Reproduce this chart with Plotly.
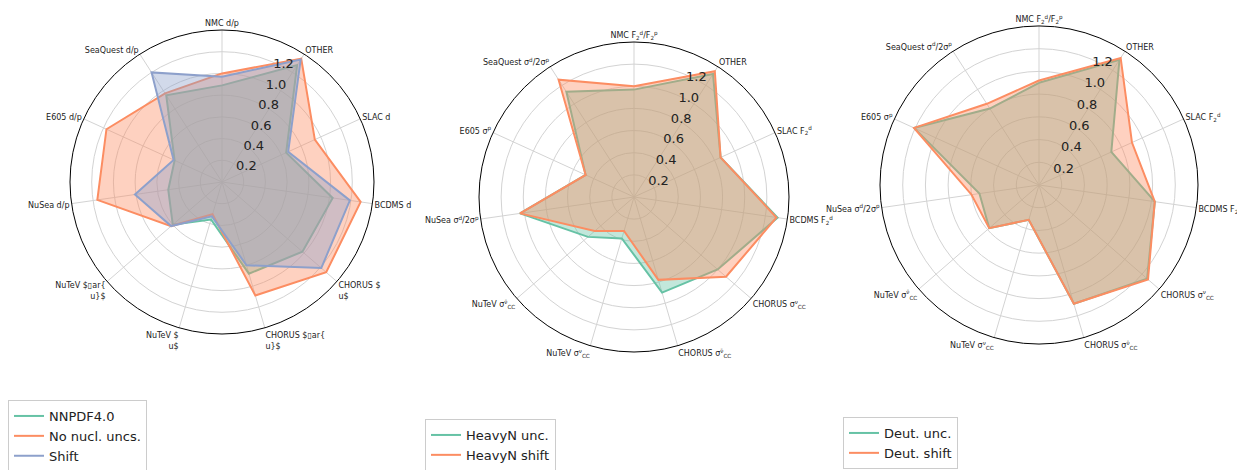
import plotly.graph_objects as go

# categories, clockwise from the top
cats1 = ["NMC d/p", "OTHER", "SLAC d", "BCDMS d", "CHORUS $<br>u$",
         "CHORUS $\u25afar{<br>u}$", "NuTeV $<br>u$", "NuTeV $\u25afar{<br>u}$",
         "NuSea d/p", "E605 d/p", "SeaQuest d/p"]
cats2 = ["NMC F<sub>2</sub><sup>d</sup>/F<sub>2</sub><sup>p</sup>", "OTHER",
         "SLAC F<sub>2</sub><sup>d</sup>", "BCDMS F<sub>2</sub><sup>d</sup>",
         "CHORUS σ<sup>ν</sup><sub>CC</sub>", "CHORUS σ<sup>ν̄</sup><sub>CC</sub>",
         "NuTeV σ<sup>ν</sup><sub>CC</sub>", "NuTeV σ<sup>ν̄</sup><sub>CC</sub>",
         "NuSea σ<sup>d</sup>/2σ<sup>p</sup>", "E605 σ<sup>p</sup>",
         "SeaQuest σ<sup>d</sup>/2σ<sup>p</sup>"]
cats3 = cats2

# panel 1
nnpdf = [0.89, 1.28, 0.65, 1.03, 0.98, 0.88, 0.36, 0.60, 0.50, 0.48, 0.95]
no_nucl = [1.00, 1.35, 0.94, 1.29, 1.27, 1.09, 0.31, 0.62, 1.16, 1.17, 0.97]
shift = [0.97, 1.34, 0.67, 1.19, 1.21, 0.80, 0.33, 0.62, 0.81, 0.49, 1.20]
# panel 2
heavy_unc = [0.97, 1.32, 0.86, 1.31, 1.00, 0.90, 0.39, 0.55, 1.04, 0.48, 1.13]
heavy_shift = [1.00, 1.35, 0.86, 1.30, 1.10, 0.78, 0.32, 0.47, 1.04, 0.48, 1.26]
# panel 3
deut_unc = [0.90, 1.31, 0.70, 1.03, 1.26, 1.09, 0.32, 0.58, 0.53, 1.21, 0.80]
deut_shift = [0.92, 1.33, 0.90, 1.03, 1.27, 1.09, 0.32, 0.58, 0.60, 1.21, 0.85]

green = "#66c2a5"
orange = "#fc8d62"
blue = "#8da0cb"
fills = {green: "rgba(102,194,165,0.4)", orange: "rgba(252,141,98,0.4)",
         blue: "rgba(141,160,203,0.4)"}

fig = go.Figure()


def add(vals, cats, name, col, polar, legend):
    fig.add_trace(go.Scatterpolar(
        r=vals + vals[:1], theta=cats + cats[:1], mode="lines", name=name,
        line=dict(color=col, width=2), fill="toself", fillcolor=fills[col],
        subplot=polar, showlegend=False))
    # line-only entry for the legend
    fig.add_trace(go.Scatterpolar(
        r=[None], theta=[cats[0]], mode="lines", name=name,
        line=dict(color=col, width=2), subplot=polar, legend=legend))


add(nnpdf, cats1, "NNPDF4.0", green, "polar", "legend")
add(no_nucl, cats1, "No nucl. uncs.", orange, "polar", "legend")
add(shift, cats1, "Shift", blue, "polar", "legend")
add(heavy_unc, cats2, "HeavyN unc.", green, "polar2", "legend2")
add(heavy_shift, cats2, "HeavyN shift", orange, "polar2", "legend2")
add(deut_unc, cats3, "Deut. unc.", green, "polar3", "legend3")
add(deut_shift, cats3, "Deut. shift", orange, "polar3", "legend3")

# the page body has an 8px margin, so the figure starts at (8, 8)
OFF = 8
W, H = 1245 - OFF, 470 - OFF


def polar(cx, cy, R):
    cx, cy = cx - OFF, cy - OFF
    return dict(
        domain=dict(x=[(cx - R) / W, (cx + R) / W], y=[1 - (cy + R) / H, 1 - (cy - R) / H]),
        bgcolor="white",
        radialaxis=dict(range=[0, 1.4], tickvals=[0.2, 0.4, 0.6, 0.8, 1.0, 1.2],
                        ticktext=["0.2", "0.4", "0.6", "0.8", "1.0", "1.2"],
                        showline=False, gridcolor="#d3d3d3", angle=70, ticks="",
                        tickangle=70, tickfont=dict(size=13, color="#222")),
        angularaxis=dict(direction="clockwise", rotation=90, showline=True,
                         linecolor="black", linewidth=1, gridcolor="#d3d3d3",
                         ticks="", tickfont=dict(size=8, color="#222")),
    )


leg = dict(bordercolor="#cccccc", borderwidth=1, font=dict(size=13, color="#222"),
           xanchor="left", yanchor="top", bgcolor="white", tracegroupgap=0,
           itemwidth=30)

fig.update_layout(
    width=W, height=H, margin=dict(l=0, r=0, t=0, b=0, autoexpand=False),
    paper_bgcolor="white", font=dict(family="DejaVu Sans"),
    polar=polar(222, 182, 152),
    polar2=polar(634, 197, 155),
    polar3=polar(1039, 185, 159),
    legend=dict(leg, x=(8 - OFF) / W, y=1 - (400 - OFF) / H),
    legend2=dict(leg, x=(425 - OFF) / W, y=1 - (419 - OFF) / H),
    legend3=dict(leg, x=(843 - OFF) / W, y=1 - (417 - OFF) / H),
)

fig.write_html("out.html")
